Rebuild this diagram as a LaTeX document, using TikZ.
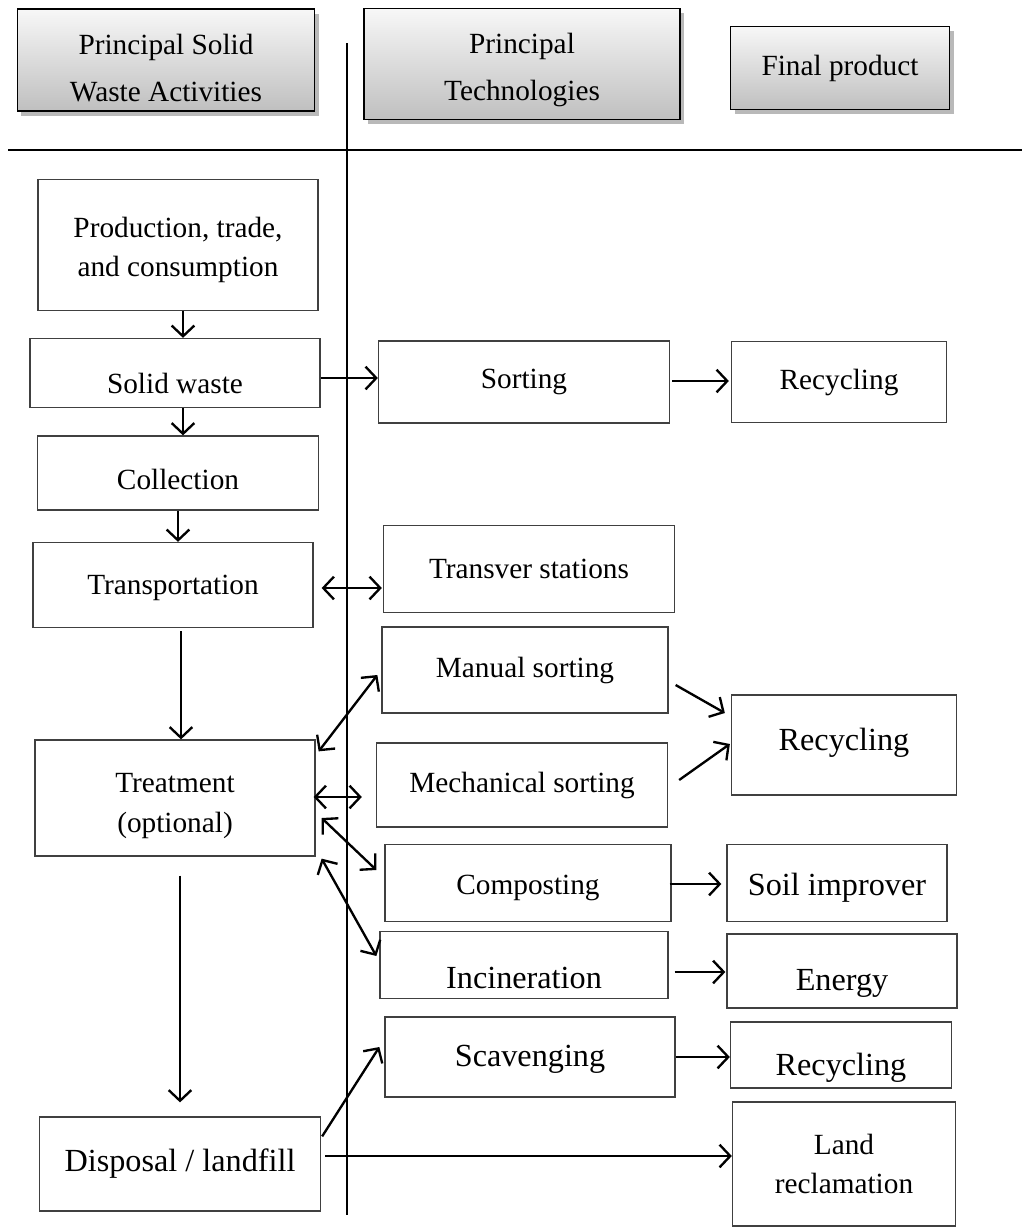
\documentclass[tikz,border=0pt]{standalone}
\usepackage{fontspec}
\setmainfont{Liberation Serif}
\usetikzlibrary{arrows.meta,shadows,calc}
\newcommand{\shiftdown}[2]{\raisebox{-#1}[\height][\depth]{#2}}

\begin{document}
\begin{tikzpicture}[x=0.015cm, y=-0.015cm,
  box/.style={draw=black!75, line width=0.55pt, inner sep=0pt, align=center, font=\fontsize{12.5}{17}\selectfont},
  bigbox/.style={box, font=\fontsize{13.75}{17}\selectfont},
  head/.style={box, draw=black, font=\fontsize{12.5}{20}\selectfont, top color=gray!6, bottom color=gray!50, drop shadow={shadow xshift=0.06cm, shadow yshift=-0.07cm, opacity=0.55}},
  arr/.style={-{Straight Barb[length=0.16cm, width=0.34cm]}, line width=1pt},
  darr/.style={{Straight Barb[length=0.16cm, width=0.34cm]}-{Straight Barb[length=0.16cm, width=0.34cm]}, line width=1pt}]
  \useasboundingbox (0,0) rectangle (1022,1228);

  % headings
  \node[head, minimum width=4.455cm, minimum height=1.53cm] (hd1) at (166,60) {\shiftdown{0.13cm}{\begin{tabular}{@{}c@{}}Principal Solid\\Waste Activities\end{tabular}}};
  \node[head, minimum width=4.74cm, minimum height=1.665cm] (hd2) at (522,64) {\shiftdown{0.05cm}{\begin{tabular}{@{}c@{}}Principal\\Technologies\end{tabular}}};
  \node[head, minimum width=3.285cm, minimum height=1.245cm] (hd3) at (840,68) {Final product};

  \draw[line width=0.9pt] (8,150) -- (1022,150);
  \draw[line width=0.65pt] (347,43) -- (347,1215);

  % activities
  \node[box, minimum width=4.2cm, minimum height=1.965cm] (prod) at (178,245) {\shiftdown{0.06cm}{\begin{tabular}{@{}c@{}}Production, trade,\\and consumption\end{tabular}}};
  \node[box, minimum width=4.35cm, minimum height=1.035cm] (solid) at (175,373) {\shiftdown{0.15cm}{Solid waste}};
  \node[box, minimum width=4.215cm, minimum height=1.11cm] (collect) at (178,473) {\shiftdown{0.1cm}{Collection}};
  \node[box, minimum width=4.2cm, minimum height=1.275cm] (transp) at (173,585) {\shiftdown{0.04cm}{Transportation}};
  \node[box, minimum width=4.2cm, minimum height=1.74cm] (treat) at (175,798) {\shiftdown{0.1cm}{\begin{tabular}{@{}c@{}}Treatment\\(optional)\end{tabular}}};
  \node[bigbox, minimum width=4.215cm, minimum height=1.41cm] (disp) at (180,1164) {Disposal / landfill};

  % technologies
  \node[box, minimum width=4.365cm, minimum height=1.23cm] (sorting) at (524,382) {Sorting};
  \node[box, minimum width=4.365cm, minimum height=1.305cm] (transver) at (529,569) {Transver stations};
  \node[box, minimum width=4.29cm, minimum height=1.29cm] (manual) at (525,670) {Manual sorting};
  \node[box, minimum width=4.365cm, minimum height=1.26cm] (mech) at (522,785) {Mechanical sorting};
  \node[box, minimum width=4.29cm, minimum height=1.155cm] (compost) at (528,883) {\shiftdown{0.07cm}{Composting}};
  \node[bigbox, minimum width=4.32cm, minimum height=1.005cm] (incin) at (524,965) {\shiftdown{0.19cm}{Incineration}};
  \node[bigbox, minimum width=4.35cm, minimum height=1.2cm] (scav) at (530,1057) {\shiftdown{0.04cm}{Scavenging}};

  % final products
  \node[box, minimum width=3.225cm, minimum height=1.215cm] (rec1) at (839,382) {Recycling};
  \node[bigbox, minimum width=3.375cm, minimum height=1.5cm] (rec2) at (844,745) {\shiftdown{-0.04cm}{Recycling}};
  \node[bigbox, minimum width=3.3cm, minimum height=1.155cm] (soil) at (837,883) {\shiftdown{0.07cm}{Soil improver}};
  \node[bigbox, minimum width=3.45cm, minimum height=1.11cm] (energy) at (842,971) {\shiftdown{0.18cm}{Energy}};
  \node[bigbox, minimum width=3.315cm, minimum height=0.99cm] (rec3) at (841,1055) {\shiftdown{0.19cm}{Recycling}};
  \node[box, minimum width=3.345cm, minimum height=1.86cm] (land) at (844,1164) {Land\\reclamation};

  % flow down the activities
  \draw[arr] ($(prod.south)+(5,0)$) to ($(solid.north)+(8,0)$);
  \draw[arr] ($(solid.south)+(8,0)$) to ($(collect.north)+(5,0)$);
  \draw[arr] (collect.south) to ($(transp.north)+(5,0)$);
  \draw[arr] ($(transp.south)+(8,3)$) to ($(treat.north)+(6,0)$);
  \draw[arr] ($(treat.south)+(5,19)$) to ($(disp.north)+(0,-14)$);

  % to the technologies
  \draw[arr] ($(solid.east)+(0,5)$) to ($(sorting.west)+(0,-4)$);
  \draw[darr] ($(transp.east)+(8,3)$) to ($(transver.west)+(-1,19)$);
  \draw[darr] ($(treat.north east)+(3,12)$) to ($(manual.west)+(-4,5)$);
  \draw[darr] ($(treat.east)+(-2,-1)$) to ($(mech.west)+(-14,12)$);
  \draw[darr] ($(treat.east)+(6,20)$) to ($(compost.west)+(-8,-13)$);
  \draw[darr] ($(treat.south east)+(6,2)$) to ($(incin.west)+(-3,-9)$);
  \draw[arr] ($(disp.north east)+(1,20)$) to ($(scav.west)+(-5,-10)$);
  \draw[arr] ($(disp.east)+(4,-8)$) to ($(land.west)+(0,-8)$);

  % to the final products
  \draw[arr] ($(sorting.east)+(2,-1)$) to ($(rec1.west)+(-2,-1)$);
  \draw[arr] ($(manual.east)+(7,15)$) to ($(rec2.west)+(-6,-32)$);
  \draw[arr] ($(mech.east)+(11,-5)$) to ($(rec2.west)+(-1,-1)$);
  \draw[arr] ($(compost.east)+(-2,1)$) to ($(soil.west)+(-5,1)$);
  \draw[arr] ($(incin.east)+(6,7)$) to ($(energy.west)+(-1,1)$);
  \draw[arr] (scav.east) to ($(rec3.west)+(0,2)$);
\end{tikzpicture}
\end{document}
